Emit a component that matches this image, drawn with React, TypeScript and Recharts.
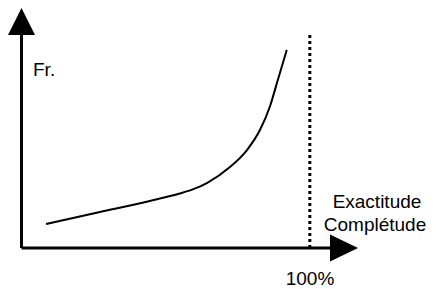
import React from 'react';
import { LineChart, Line, XAxis, YAxis, ReferenceLine, ReferenceDot } from 'recharts';

// completeness / accuracy in % (x) against frequency (y)
const completeness = [8.5, 27.2, 44.5, 54.9, 59.4, 64.3, 72.3, 78.2, 82.7, 86.1, 88.9, 92];
const frequency = [11.3, 16.9, 22.1, 25.6, 27.5, 30.5, 38.0, 46.0, 55.4, 66.2, 78.9, 93.0];
const xLabels = ['Exactitude', 'Complétude'];
const yLabel = 'Fr.';
const limitLabel = '100%';
const caption = 'l. Crédibilité des données selon l\'exactitude';

const data = completeness.map((x, i) => ({ x, y: frequency[i] }));

const W = 437;
const H = 289;
const font = 'Liberation Sans, Arial, sans-serif';

function UpArrow(props: any) {
  const { cx, cy } = props;
  return <polygon points={`${cx - 13.5},${cy} ${cx + 13.5},${cy} ${cx},${cy - 27}`} fill="#000" />;
}

function RightArrow(props: any) {
  const { cx, cy } = props;
  return <polygon points={`${cx},${cy - 13.5} ${cx},${cy + 13.5} ${cx + 28},${cy}`} fill="#000" />;
}

export default function App() {
  return (
    <div style={{ position: 'absolute', left: 0, top: 0, width: W, height: H, background: '#fff', overflow: 'hidden' }}>
      <LineChart width={W} height={H} data={data} margin={{ top: 35, right: 107, bottom: 41, left: 21.5 }}>
        <XAxis dataKey="x" type="number" domain={[0, 107]} hide allowDataOverflow />
        <YAxis type="number" domain={[0, 100]} hide allowDataOverflow />
        <ReferenceLine x={0} stroke="#000" strokeWidth={3} />
        <ReferenceLine y={0} stroke="#000" strokeWidth={3} />
        <ReferenceLine
          segment={[{ x: 100, y: 0 }, { x: 100, y: 101 }]}
          stroke="#000"
          strokeWidth={3}
          strokeDasharray="3 3"
          ifOverflow="visible"
        />
        <ReferenceDot x={0} y={100} r={0} ifOverflow="visible" shape={UpArrow} />
        <ReferenceDot x={107} y={0} r={0} ifOverflow="visible" shape={RightArrow} />
        <Line
          type="monotone"
          dataKey="y"
          stroke="#000"
          strokeWidth={2}
          dot={false}
          isAnimationActive={false}
        />
      </LineChart>
      {/* text overlay; the caption sits mostly below the frame, as in the source */}
      <svg width={W} height={H} style={{ position: 'absolute', left: 0, top: 0, pointerEvents: 'none' }}>
        <text x={33} y={76} fontFamily={font} fontSize={19} fill="#000">{yLabel}</text>
        <text x={377} y={208} fontFamily={font} fontSize={19} fill="#000" textAnchor="middle">{xLabels[0]}</text>
        <text x={375} y={231} fontFamily={font} fontSize={19} fill="#000" textAnchor="middle">{xLabels[1]}</text>
        <text x={310} y={285} fontFamily={font} fontSize={19} fill="#000" textAnchor="middle">{limitLabel}</text>
        <text x={20} y={301.5} fontFamily={font} fontSize={19} fontWeight="bold" fill="#000">{caption}</text>
      </svg>
    </div>
  );
}
